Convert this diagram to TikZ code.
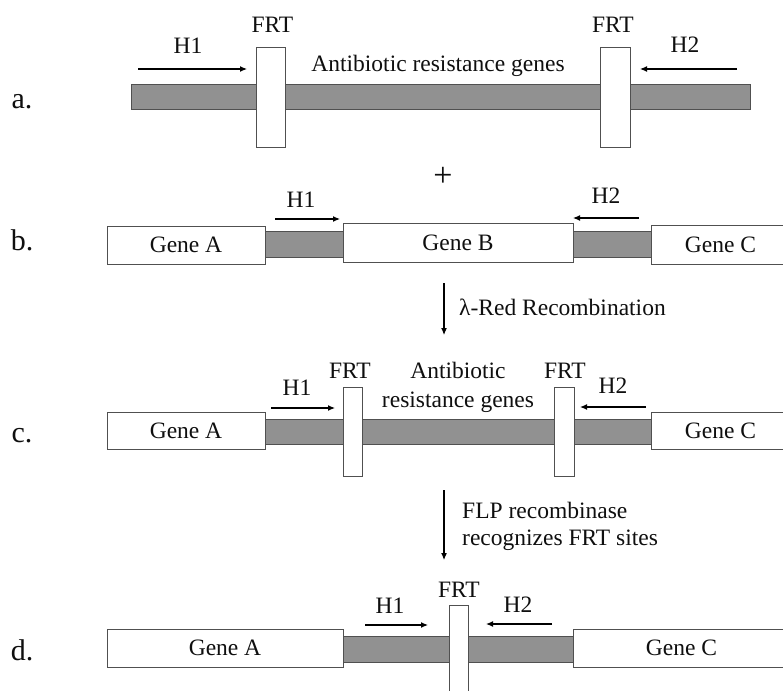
\documentclass[tikz,border=0pt]{standalone}
\usepackage{fontspec}
\setmainfont{Liberation Serif}
\usetikzlibrary{arrows.meta}
\definecolor{bargray}{RGB}{145,145,145}
\definecolor{edgegray}{RGB}{80,80,80}
\definecolor{txt}{RGB}{15,15,15}
\begin{document}
\begin{tikzpicture}[x=1pt,y=-1pt,
  lbl/.style={anchor=base, inner sep=0pt, font=\fontsize{23.5}{28}\selectfont, text=txt},
  lblw/.style={lbl, anchor=base west},
  rowlbl/.style={lbl, font=\fontsize{30}{34}\selectfont},
  bar/.style={draw=edgegray, fill=bargray, line width=0.9pt, inner sep=0pt},
  frt/.style={draw=edgegray, fill=white, line width=0.9pt, inner sep=0pt},
  genebox/.style={draw=edgegray, fill=white, line width=0.9pt, inner sep=0pt, font=\fontsize{23.5}{28}\selectfont, text=txt},
  harrow/.style={-{Latex[length=7pt,width=6pt]}, line width=1.2pt, draw=black},
  varrow/.style={-{Latex[length=7pt,width=6pt]}, line width=1.1pt, draw=black}]
\useasboundingbox (0,0) rectangle (783,690);
\clip (0,0) rectangle (783,690);
\fill[white] (0,0) rectangle (783,690);

% ---------- row a ----------
\node[rowlbl] (la) at (22,108) {a.};
\node[bar, minimum width=619pt, minimum height=25pt] (bara) at (440.5,96.5) {};
\node[frt, minimum width=29pt, minimum height=100pt] (frta1) at (270.5,97) {};
\node[frt, minimum width=30pt, minimum height=100pt] (frta2) at (615,97) {};
\node[lbl] (tfrta1) at (272.5,33) {FRT};
\node[lbl] (tfrta2) at (613,33) {FRT};
\node[lbl] (th1a) at (188,54) {H1};
\node[lbl] (th2a) at (685,53) {H2};
\node[lbl] (tabra) at (438,72) {Antibiotic resistance genes};
\coordinate (h1as) at (138,69);
\coordinate (h1ae) at (247,69);
\coordinate (h2as) at (737,69);
\coordinate (h2ae) at (640,69);
\draw[harrow] (h1as) -- (h1ae);
\draw[harrow] (h2as) -- (h2ae);

\node[lbl, anchor=center, font=\fontsize{34}{38}\selectfont] (plus) at (443,177) {+};

% ---------- row b ----------
\node[rowlbl] (lb) at (22,250) {b.};
\node[bar, minimum width=78pt, minimum height=26pt] (barb1) at (304,244) {};
\node[bar, minimum width=78pt, minimum height=26pt] (barb2) at (612,244) {};
\node[genebox, minimum width=158pt, minimum height=38pt] (gab) at (186,245) {Gene A};
\node[genebox, minimum width=230pt, minimum height=39pt] (gbb) at (458,242.5) {Gene B};
\node[genebox, minimum width=139pt, minimum height=39pt] (gcb) at (720.5,244.5) {Gene C};
\node[lbl] (th1b) at (301,207) {H1};
\node[lbl] (th2b) at (606,203) {H2};
\coordinate (h1bs) at (275,219);
\coordinate (h1be) at (340,219);
\coordinate (h2bs) at (639,218);
\coordinate (h2be) at (573,218);
\draw[harrow] (h1bs) -- (h1be);
\draw[harrow] (h2bs) -- (h2be);

% lambda-Red arrow
\coordinate (lrs) at (444,283);
\coordinate (lre) at (444,335);
\draw[varrow] (lrs) -- (lre);
\node[lblw] (tlr) at (459,315) {λ-Red Recombination};

% ---------- row c ----------
\node[rowlbl] (lc) at (22,442) {c.};
\node[bar, minimum width=386pt, minimum height=25pt] (barc) at (458,431.5) {};
\node[frt, minimum width=19pt, minimum height=89pt] (frtc1) at (352.5,431.5) {};
\node[frt, minimum width=20pt, minimum height=89pt] (frtc2) at (564,431.5) {};
\node[genebox, minimum width=158pt, minimum height=37pt] (gac) at (186,430.5) {Gene A};
\node[genebox, minimum width=139pt, minimum height=37pt] (gcc) at (720.5,430.5) {Gene C};
\node[lbl] (th1c) at (297,395) {H1};
\node[lbl] (tfrtc1) at (350,378) {FRT};
\node[lbl] (tfrtc2) at (565,378) {FRT};
\node[lbl] (tabc1) at (458,378) {Antibiotic};
\node[lbl] (tabc2) at (458,407) {resistance genes};
\node[lbl] (th2c) at (613,393) {H2};
\coordinate (h1cs) at (271,408);
\coordinate (h1ce) at (335,408);
\coordinate (h2cs) at (646,407);
\coordinate (h2ce) at (580,407);
\draw[harrow] (h1cs) -- (h1ce);
\draw[harrow] (h2cs) -- (h2ce);

% FLP arrow
\coordinate (flps) at (444,490);
\coordinate (flpe) at (444,560);
\draw[varrow] (flps) -- (flpe);
\node[lblw] (tflp1) at (462,518) {FLP recombinase};
\node[lblw] (tflp2) at (462,545) {recognizes FRT sites};

% ---------- row d ----------
\node[rowlbl] (ld) at (22,660) {d.};
\node[bar, minimum width=230pt, minimum height=26pt] (bard) at (458,649) {};
\node[frt, minimum width=19pt, minimum height=95pt] (frtd) at (458.5,652.5) {};
\node[genebox, minimum width=236pt, minimum height=38pt] (gad) at (225,648) {Gene A};
\node[genebox, minimum width=217pt, minimum height=38pt] (gcd) at (681.5,648) {Gene C};
\node[lbl] (th1d) at (390,613) {H1};
\node[lbl] (tfrtd) at (459,597) {FRT};
\node[lbl] (th2d) at (518,612) {H2};
\coordinate (h1ds) at (365,625);
\coordinate (h1de) at (428,625);
\coordinate (h2ds) at (552,624);
\coordinate (h2de) at (486,624);
\draw[harrow] (h1ds) -- (h1de);
\draw[harrow] (h2ds) -- (h2de);
\end{tikzpicture}
\end{document}
